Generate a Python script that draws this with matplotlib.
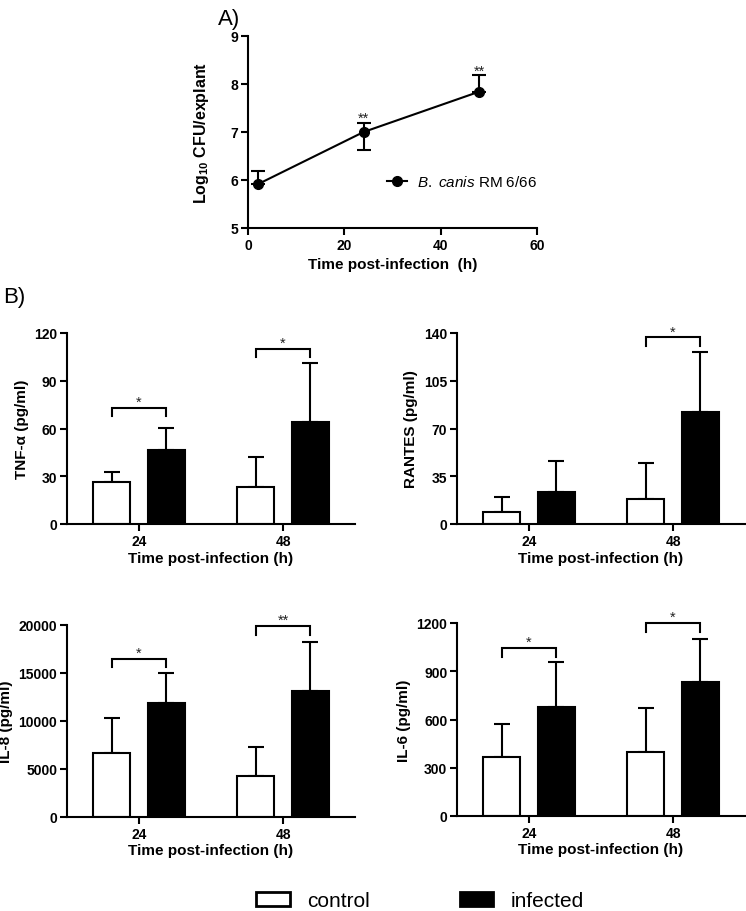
import matplotlib
matplotlib.use("Agg")
import matplotlib.pyplot as plt
from matplotlib.patches import Patch
from matplotlib.lines import Line2D
import numpy as np

plt.rcParams['font.family'] = ['Liberation Sans', 'DejaVu Sans']
plt.rcParams['mathtext.fontset'] = 'custom'
plt.rcParams['mathtext.rm'] = 'Liberation Sans'
plt.rcParams['mathtext.it'] = 'Liberation Sans:italic'
plt.rcParams['mathtext.bf'] = 'Liberation Sans:bold'

# ---------------- Panel A data ----------------
a_time = [2, 24, 48]
a_log_cfu = [5.91, 7.00, 7.84]
a_err_low = [0.0, 0.37, 0.0]
a_err_high = [0.28, 0.19, 0.34]
a_stars = ["", "**", "**"]
a_label = r'$\mathit{B.\ canis}$ RM 6/66'

# ---------------- Panel B data ----------------
time_labels = ["24", "48"]
groups = ["control", "infected"]

tnf_control = [26.2, 23.0]
tnf_control_err = [6.3, 18.9]
tnf_infected = [46.7, 63.9]
tnf_infected_err = [13.8, 37.1]
tnf_brackets = [73.0, 110.0]
tnf_stars = ["*", "*"]

rantes_control = [9.0, 18.0]
rantes_control_err = [10.5, 26.5]
rantes_infected = [23.5, 82.3]
rantes_infected_err = [22.9, 44.0]
rantes_brackets = [None, 136.8]
rantes_stars = ["", "*"]

il8_control = [6690, 4230]
il8_control_err = [3670, 3050]
il8_infected = [11850, 13170]
il8_infected_err = [3120, 5100]
il8_brackets = [16460, 19860]
il8_stars = ["*", "**"]

il6_control = [368, 399]
il6_control_err = [202, 271]
il6_infected = [676, 832]
il6_infected_err = [279, 270]
il6_brackets = [1044, 1200]
il6_stars = ["*", "*"]

W, H = 746, 912
fig = plt.figure(figsize=(W / 100, H / 100), dpi=100)


def fax(left, top, right, bottom):
    return fig.add_axes([left / W, 1 - bottom / H, (right - left) / W, (bottom - top) / H])


LW = 1.5
TICK_FS = 10
LABEL_FS = 11
STAR_COLOR = '#222222'

# ---------------- Panel A ----------------
axA = fax(248, 37, 537, 229)
axA.errorbar(a_time, a_log_cfu, yerr=[a_err_low, a_err_high], color='black', lw=LW,
             marker='o', markersize=7, capsize=5, capthick=LW, elinewidth=LW,
             clip_on=False, zorder=3)
for t, v, e, s in zip(a_time, a_log_cfu, a_err_high, a_stars):
    if s:
        axA.annotate(s, xy=(t, v + e), xytext=(0, 0.5), textcoords='offset points',
                     ha='center', va='baseline', fontsize=10.5, color=STAR_COLOR)
axA.set_xlim(0, 60)
axA.set_ylim(5, 9)
axA.set_xticks([0, 20, 40, 60])
axA.set_yticks([5, 6, 7, 8, 9])
axA.set_xlabel('Time post-infection  (h)', fontsize=LABEL_FS, fontweight='bold', labelpad=4)
axA.set_ylabel(r'Log$_{\mathbf{10}}$ CFU/explant', fontsize=11.5, fontweight='bold', labelpad=14)
a_handle = Line2D([], [], color='black', lw=LW, marker='o', markersize=7)
axA.legend(handles=[a_handle], labels=[a_label], loc='center left',
           bbox_to_anchor=(0.481, 0.24), frameon=False, fontsize=11,
           handlelength=1.3, handletextpad=0.65, borderpad=0, borderaxespad=0)
fig.text(218 / W, 1 - 20 / H, 'A)', fontsize=16, va='center', ha='left')
fig.text(3 / W, 1 - 298 / H, 'B)', fontsize=16, va='center', ha='left')

# ---------------- Panel B ----------------
pos = np.arange(len(time_labels))
bw = 0.255
off = 0.19


def bar_panel(ax, ctrl, ctrl_err, inf, inf_err, brackets, stars, ymax, yticks, ylabel, leg_drop):
    ax.bar(pos - off, ctrl, bw, color='white', edgecolor='black', linewidth=LW, zorder=2,
           label=groups[0])
    ax.bar(pos + off, inf, bw, color='black', edgecolor='black', linewidth=LW, zorder=2,
           label=groups[1])
    ax.errorbar(pos - off, ctrl, yerr=[np.zeros(len(ctrl)), ctrl_err], fmt='none',
                ecolor='black', elinewidth=LW, capsize=6, capthick=LW, zorder=1)
    ax.errorbar(pos + off, inf, yerr=[np.zeros(len(inf)), inf_err], fmt='none',
                ecolor='black', elinewidth=LW, capsize=6, capthick=LW, zorder=1)
    for p, b, s in zip(pos, brackets, stars):
        if b is None:
            continue
        x0, x1 = p - off, p + off
        ax.plot([x0, x0, x1, x1], [b - leg_drop, b, b, b - leg_drop], color='black',
                lw=LW, clip_on=False, solid_joinstyle='miter')
        ax.annotate(s, xy=((x0 + x1) / 2, b), xytext=(0, 1.5), textcoords='offset points',
                    ha='center', va='baseline', fontsize=10.5, color=STAR_COLOR,
                    annotation_clip=False)
    ax.set_xlim(-0.5, 1.5)
    ax.set_ylim(0, ymax)
    ax.set_yticks(yticks)
    ax.set_xticks(pos)
    ax.set_xticklabels(time_labels)
    ax.set_ylabel(ylabel, fontsize=LABEL_FS, fontweight='bold', labelpad=4)
    ax.set_xlabel('Time post-infection (h)', fontsize=LABEL_FS, fontweight='bold', labelpad=2)


axT = fax(67, 334, 355, 525)
bar_panel(axT, tnf_control, tnf_control_err, tnf_infected, tnf_infected_err, tnf_brackets,
          tnf_stars, 120, [0, 30, 60, 90, 120], 'TNF-α (pg/ml)', 5.3)
axR = fax(457, 334, 745, 525)
bar_panel(axR, rantes_control, rantes_control_err, rantes_infected, rantes_infected_err,
          rantes_brackets, rantes_stars, 140, [0, 35, 70, 105, 140], 'RANTES (pg/ml)', 6.6)
axI8 = fax(67, 626, 355, 818)
bar_panel(axI8, il8_control, il8_control_err, il8_infected, il8_infected_err, il8_brackets,
          il8_stars, 20000, [0, 5000, 10000, 15000, 20000], 'IL-8 (pg/ml)', 880)
axI6 = fax(457, 624, 745, 817)
bar_panel(axI6, il6_control, il6_control_err, il6_infected, il6_infected_err, il6_brackets,
          il6_stars, 1200, [0, 300, 600, 900, 1200], 'IL-6 (pg/ml)', 54)

for ax in [axA, axT, axR, axI8, axI6]:
    for side in ['top', 'right']:
        ax.spines[side].set_visible(False)
    for side in ['left', 'bottom']:
        ax.spines[side].set_linewidth(LW)
    ax.tick_params(direction='out', length=5, width=LW, labelsize=TICK_FS, pad=2)
    for lab in ax.get_xticklabels() + ax.get_yticklabels():
        lab.set_fontweight('bold')

handles = [Patch(facecolor='white', edgecolor='black', linewidth=2, label=groups[0]),
           Patch(facecolor='black', edgecolor='black', linewidth=2, label=groups[1])]
fig.legend(handles=handles, loc='center', bbox_to_anchor=(420 / W, 1 - 902 / H), ncol=2,
           frameon=False, fontsize=15, handlelength=1.6, handleheight=0.65,
           handletextpad=0.85, columnspacing=4.3)

fig.savefig('out.png', dpi=100)
